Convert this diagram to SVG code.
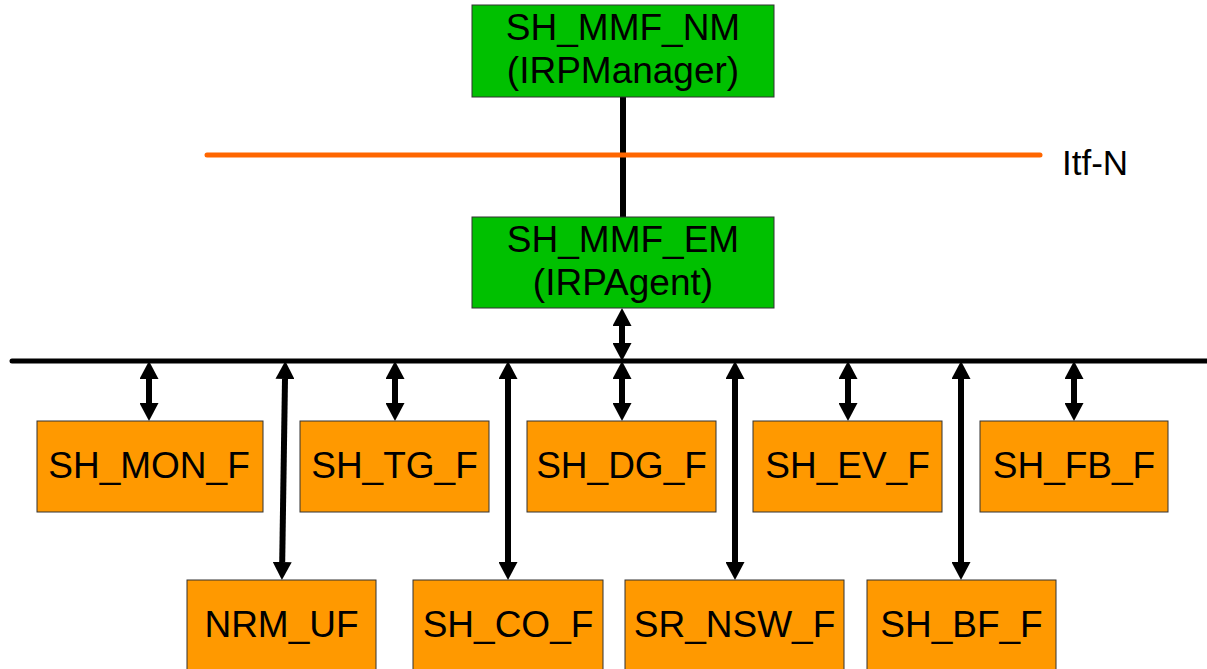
<svg xmlns="http://www.w3.org/2000/svg" width="1207" height="669" viewBox="0 0 1207 669">
<style>
.g{fill:#00C000;stroke:#333;stroke-width:1}
.o{fill:#FF9900;stroke:#333;stroke-width:1}
text{font-family:"Liberation Sans",Arial,sans-serif;font-size:37px;fill:#000;text-anchor:middle}
.c{stroke:#000;stroke-width:6;fill:none}
</style>
<defs>
<marker id="ah" markerUnits="userSpaceOnUse" markerWidth="18" markerHeight="19" viewBox="0 0 18 19" refX="0" refY="9.5" orient="auto-start-reverse">
<path d="M0,0 L18,9.5 L0,19 z" fill="#000"/>
</marker>
</defs>
<g id="connectors">
<line x1="623" y1="97" x2="623" y2="217" class="c"/>
<line x1="207" y1="155" x2="1040" y2="155" stroke="#FF6600" stroke-width="5" stroke-linecap="round"/>
<line x1="12" y1="361" x2="1207" y2="361" stroke="#000" stroke-width="5" stroke-linecap="round"/>
<line x1="622" y1="326" x2="622" y2="343" class="c" marker-start="url(#ah)" marker-end="url(#ah)"/>
<line x1="622" y1="379" x2="622" y2="403" class="c" marker-start="url(#ah)" marker-end="url(#ah)"/>
<line x1="149" y1="379" x2="149" y2="403" class="c" marker-start="url(#ah)" marker-end="url(#ah)"/>
<line x1="395" y1="379" x2="395" y2="403" class="c" marker-start="url(#ah)" marker-end="url(#ah)"/>
<line x1="848" y1="379" x2="848" y2="403" class="c" marker-start="url(#ah)" marker-end="url(#ah)"/>
<line x1="1074" y1="379" x2="1074" y2="403" class="c" marker-start="url(#ah)" marker-end="url(#ah)"/>
<line x1="285" y1="379" x2="282.2" y2="562" class="c" marker-start="url(#ah)" marker-end="url(#ah)"/>
<line x1="508" y1="379" x2="508" y2="562" class="c" marker-start="url(#ah)" marker-end="url(#ah)"/>
<line x1="735" y1="379" x2="735" y2="562" class="c" marker-start="url(#ah)" marker-end="url(#ah)"/>
<line x1="961" y1="379" x2="961" y2="562" class="c" marker-start="url(#ah)" marker-end="url(#ah)"/>
</g>
<g id="itf-n"><text x="1062" y="175" style="text-anchor:start;font-size:35px">Itf-N</text></g>
<g id="nm"><rect x="472" y="5" width="302" height="92" class="g"/><text x="623" y="40">SH_MMF_NM</text><text x="623" y="83">(IRPManager)</text></g>
<g id="em"><rect x="472" y="217" width="302" height="91" class="g"/><text x="623" y="252">SH_MMF_EM</text><text x="623" y="295">(IRPAgent)</text></g>
<g id="mon"><rect x="37" y="421" width="226" height="91" class="o"/><text x="149" y="478">SH_MON_F</text></g>
<g id="tg"><rect x="300" y="421" width="189" height="91" class="o"/><text x="394.5" y="478">SH_TG_F</text></g>
<g id="dg"><rect x="527" y="421" width="189" height="91" class="o"/><text x="621.5" y="478">SH_DG_F</text></g>
<g id="ev"><rect x="753" y="421" width="189" height="91" class="o"/><text x="847.5" y="478">SH_EV_F</text></g>
<g id="fb"><rect x="980" y="421" width="188" height="91" class="o"/><text x="1074" y="478">SH_FB_F</text></g>
<g id="nrm"><rect x="187" y="580" width="189" height="100" class="o"/><text x="281.5" y="637">NRM_UF</text></g>
<g id="co"><rect x="413" y="580" width="190" height="100" class="o"/><text x="508" y="637">SH_CO_F</text></g>
<g id="nsw"><rect x="625" y="580" width="219" height="100" class="o"/><text x="734.5" y="637">SR_NSW_F</text></g>
<g id="bf"><rect x="867" y="580" width="189" height="100" class="o"/><text x="961.5" y="637">SH_BF_F</text></g>
</svg>
